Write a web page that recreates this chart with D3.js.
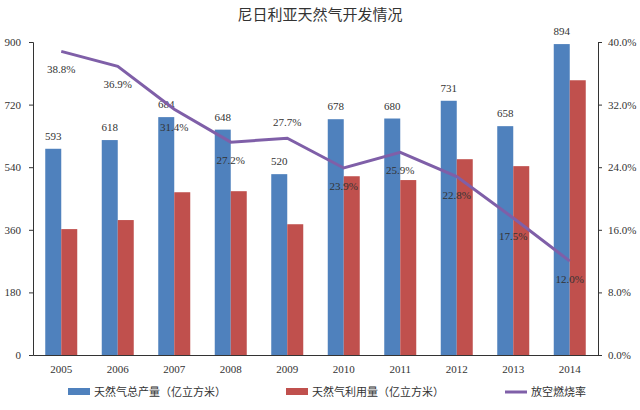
<!DOCTYPE html>
<html><head><meta charset="utf-8">
<script src="https://cdn.jsdelivr.net/npm/d3@7"></script>
<style>body{margin:0;background:#fff}</style>
</head><body>
<svg id="c" width="640" height="410"></svg>
<script>
const years = ['2005','2006','2007','2008','2009','2010','2011','2012','2013','2014'];
const production = [593, 618, 684, 648, 520, 678, 680, 731, 658, 894];
const utilization = [362, 388, 468, 471, 376, 514, 503, 563, 543, 790];
const flareRate = [38.8, 36.9, 31.4, 27.2, 27.7, 23.9, 25.9, 22.8, 17.5, 12.0];
const leftTicks = [0, 180, 360, 540, 720, 900];
const rightTicks = [0, 8, 16, 24, 32, 40];
const labelOffsets = [22, 22, 22, 22, -12, 22, 22, 22, 22, 22];

const svg = d3.select('#c');
const m = {left: 33, right: 598, top: 42, bottom: 355};
const serif = '"Liberation Serif", serif';
const cjk = '"Noto Sans CJK SC", sans-serif';

const x = d3.scaleBand().domain(years).range([m.left, m.right]);
const y = d3.scaleLinear().domain([0, 900]).range([m.bottom, m.top]);
const y2 = d3.scaleLinear().domain([0, 40]).range([m.bottom, m.top]);

svg.append('text').attr('x', 320).attr('y', 20).attr('text-anchor', 'middle')
  .style('font-family', cjk).style('font-size', '15px').style('fill', '#333').text('尼日利亚天然气开发情况');

const ax = svg.append('g').attr('transform', `translate(0,${m.bottom})`)
  .call(d3.axisBottom(x).tickSize(0).tickPadding(10));
const axl = svg.append('g').attr('transform', `translate(${m.left},0)`)
  .call(d3.axisLeft(y).tickValues(leftTicks).tickSize(4).tickPadding(8));
const axr = svg.append('g').attr('transform', `translate(${m.right},0)`)
  .call(d3.axisRight(y2).tickValues(rightTicks).tickSize(4).tickPadding(6).tickFormat(d => d.toFixed(1) + '%'));
[ax, axl, axr].forEach(g => {
  g.select('.domain').attr('stroke', '#333');
  g.selectAll('line').attr('stroke', '#333');
  g.selectAll('text').style('font-family', serif).style('font-size', '11px').style('fill', '#333');
});

const bw = 16;
svg.selectAll('.b1').data(production).enter().append('rect')
  .attr('x', (d, i) => x(years[i]) + x.bandwidth() / 2 - bw).attr('width', bw)
  .attr('y', d => y(d)).attr('height', d => m.bottom - y(d)).attr('fill', '#4F81BD');
svg.selectAll('.b2').data(utilization).enter().append('rect')
  .attr('x', (d, i) => x(years[i]) + x.bandwidth() / 2).attr('width', bw)
  .attr('y', d => y(d)).attr('height', d => m.bottom - y(d)).attr('fill', '#C0504D');
svg.selectAll('.l1').data(production).enter().append('text')
  .attr('x', (d, i) => x(years[i]) + x.bandwidth() / 2 - bw / 2).attr('y', d => y(d) - 9)
  .attr('text-anchor', 'middle').style('font-family', serif).style('font-size', '11px').style('fill', '#333')
  .text(d => d);

const cx = i => x(years[i]) + x.bandwidth() / 2;
svg.append('path').datum(flareRate)
  .attr('d', d3.line().x((d, i) => cx(i)).y(d => y2(d)))
  .attr('fill', 'none').attr('stroke', '#7F5FA8').attr('stroke-width', 3);
svg.selectAll('.l2').data(flareRate).enter().append('text')
  .attr('x', (d, i) => cx(i)).attr('y', (d, i) => y2(d) + labelOffsets[i])
  .attr('text-anchor', 'middle').style('font-family', serif).style('font-size', '11px').style('fill', '#333')
  .text(d => d.toFixed(1) + '%');

const legend = [
  {t: '天然气总产量（亿立方米）', c: '#4F81BD', x: 68, type: 'rect'},
  {t: '天然气利用量（亿立方米）', c: '#C0504D', x: 286, type: 'rect'},
  {t: '放空燃烧率', c: '#7F5FA8', x: 505, type: 'line'}
];
legend.forEach(l => {
  const g = svg.append('g').attr('transform', `translate(${l.x},392)`);
  if (l.type === 'rect') g.append('rect').attr('x', 0).attr('y', -4).attr('width', 22).attr('height', 7).attr('fill', l.c);
  else g.append('line').attr('x1', 0).attr('x2', 22).attr('y1', 0).attr('y2', 0).attr('stroke', l.c).attr('stroke-width', 3);
  g.append('text').attr('x', 26).attr('y', 4).style('font-family', cjk).style('font-size', '11px').style('fill', '#333').text(l.t);
});
</script>
</body></html>
